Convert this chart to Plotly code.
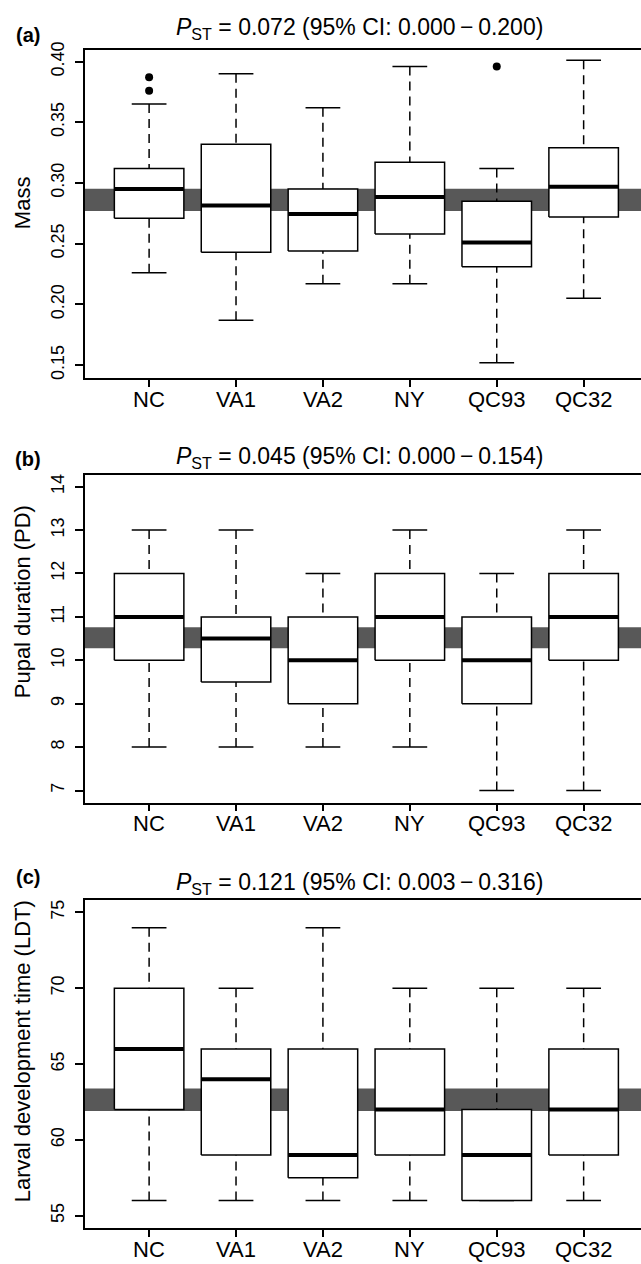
import plotly.graph_objects as go

# ---------------- data ----------------
categories = ["NC", "VA1", "VA2", "NY", "QC93", "QC32"]

# Panel (a) Mass
mass_low = [0.226, 0.187, 0.217, 0.217, 0.152, 0.205]
mass_q1 = [0.271, 0.243, 0.244, 0.258, 0.231, 0.272]
mass_med = [0.295, 0.2815, 0.2745, 0.2885, 0.251, 0.297]
mass_q3 = [0.312, 0.332, 0.295, 0.317, 0.285, 0.329]
mass_high = [0.365, 0.390, 0.362, 0.396, 0.312, 0.401]
mass_out_x = ["NC", "NC", "QC93"]
mass_out_y = [0.387, 0.376, 0.396]
mass_band = [0.277, 0.2953]
mass_title = "<i>P</i><sub>ST</sub> = 0.072 (95% CI: 0.000\u2009\u2212\u20090.200)"

# Panel (b) Pupal duration
pd_low = [8, 8, 8, 8, 7, 7]
pd_q1 = [10, 9.5, 9, 10, 9, 10]
pd_med = [11, 10.5, 10, 11, 10, 11]
pd_q3 = [12, 11, 11, 12, 11, 12]
pd_high = [13, 13, 12, 13, 12, 13]
pd_band = [10.275, 10.764]
pd_title = "<i>P</i><sub>ST</sub> = 0.045 (95% CI: 0.000\u2009\u2212\u20090.154)"

# Panel (c) Larval development time
ldt_low = [56, 56, 56, 56, 56, 56]
ldt_q1 = [62, 59, 57.5, 59, 56, 59]
ldt_med = [66, 64, 59, 62, 59, 62]
ldt_q3 = [70, 66, 66, 66, 62, 66]
ldt_high = [74, 70, 74, 70, 70, 70]
ldt_band = [61.9, 63.39]
ldt_title = "<i>P</i><sub>ST</sub> = 0.121 (95% CI: 0.003\u2009\u2212\u20090.316)"

# ---------------- layout constants ----------------
W, H = 641, 1264
FONT = "Liberation Sans, Arial, Helvetica, sans-serif"
x_left_px = 84.8
xdom = [x_left_px / W, 1.0]
xrange_ = [0.26, 6.66]

panels = [
    dict(low=mass_low, q1=mass_q1, med=mass_med, q3=mass_q3, high=mass_high,
         out_x=mass_out_x, out_y=mass_out_y, band=mass_band, title=mass_title,
         ytitle="Mass", label="(a)", top=42, bottom=372.7, yr=[0.1396, 0.4098],
         tickvals=[0.15, 0.20, 0.25, 0.30, 0.35, 0.40],
         ticktext=["0.15", "0.20", "0.25", "0.30", "0.35", "0.40"],
         title_y=21, ytitle_y=196.7, label_y=27),
    dict(low=pd_low, q1=pd_q1, med=pd_med, q3=pd_q3, high=pd_high,
         out_x=[], out_y=[], band=pd_band, title=pd_title,
         ytitle="Pupal duration (PD)", label="(b)", top=470.7, bottom=801, yr=[6.72, 14.27],
         tickvals=[7, 8, 9, 10, 11, 12, 13, 14],
         ticktext=["7", "8", "9", "10", "11", "12", "13", "14"],
         title_y=453, ytitle_y=599, label_y=455),
    dict(low=ldt_low, q1=ldt_q1, med=ldt_med, q3=ldt_q3, high=ldt_high,
         out_x=[], out_y=[], band=ldt_band, title=ldt_title,
         ytitle="Larval development time (LDT)", label="(c)", top=899, bottom=1230, yr=[54.17, 75.83],
         tickvals=[55, 60, 65, 70, 75],
         ticktext=["55", "60", "65", "70", "75"],
         title_y=882, ytitle_y=1051.5, label_y=876),
]

fig = go.Figure()
layout = dict(width=W, height=H, margin=dict(l=0, r=0, t=0, b=0),
              paper_bgcolor="white", plot_bgcolor="white", showlegend=False,
              font=dict(family=FONT, color="black"))
shapes = []
annotations = []

BOXW = 0.4
CAPW = 0.2
pos = {c: i + 1 for i, c in enumerate(categories)}

for k, p in enumerate(panels):
    sfx = "" if k == 0 else str(k + 1)
    xa, ya = "x" + sfx, "y" + sfx
    # band
    shapes.append(dict(type="rect", xref=f"{xa} domain", yref=ya, x0=0, x1=1,
                       y0=p["band"][0], y1=p["band"][1], fillcolor="#585858",
                       line=dict(width=0), layer="below"))
    for i, c in enumerate(categories):
        x = pos[c]
        # whiskers (dashed)
        fig.add_trace(go.Scatter(
            x=[x, x, None, x, x],
            y=[p["high"][i], p["q3"][i], None, p["low"][i], p["q1"][i]],
            mode="lines", line=dict(color="black", width=1.5, dash="9px,6px"),
            xaxis=xa, yaxis=ya, hoverinfo="skip"))
        # caps
        fig.add_trace(go.Scatter(
            x=[x - CAPW, x + CAPW, None, x - CAPW, x + CAPW],
            y=[p["high"][i], p["high"][i], None, p["low"][i], p["low"][i]],
            mode="lines", line=dict(color="black", width=1.5),
            xaxis=xa, yaxis=ya, hoverinfo="skip"))
        # box
        fig.add_trace(go.Scatter(
            x=[x - BOXW, x + BOXW, x + BOXW, x - BOXW, x - BOXW],
            y=[p["q1"][i], p["q1"][i], p["q3"][i], p["q3"][i], p["q1"][i]],
            mode="lines", fill="toself", fillcolor="white",
            line=dict(color="black", width=1.5),
            xaxis=xa, yaxis=ya, hoverinfo="skip"))
        # median
        fig.add_trace(go.Scatter(
            x=[x - BOXW, x + BOXW], y=[p["med"][i], p["med"][i]],
            mode="lines", line=dict(color="black", width=4),
            xaxis=xa, yaxis=ya, hoverinfo="skip"))
        # category label (placed below the axis)
        annotations.append(dict(text=c, xref=xa, yref="paper", x=x,
                                y=1 - (p["bottom"] + 21.5) / H, xanchor="center",
                                yanchor="middle", showarrow=False,
                                font=dict(size=22, family=FONT, color="black")))
    if p["out_x"]:
        fig.add_trace(go.Scatter(
            x=[pos[c] for c in p["out_x"]], y=p["out_y"], mode="markers",
            marker=dict(color="black", size=8),
            xaxis=xa, yaxis=ya, hoverinfo="skip"))

    ydom = [1 - p["bottom"] / H, 1 - p["top"] / H]
    layout["xaxis" + sfx] = dict(
        domain=xdom, range=xrange_, anchor=ya, showgrid=False, zeroline=False,
        showline=True, linecolor="black", linewidth=1.5, mirror=True,
        ticks="outside", ticklen=7, tickwidth=1.5, tickcolor="black",
        tickvals=[1, 2, 3, 4, 5, 6], showticklabels=False)
    layout["yaxis" + sfx] = dict(
        domain=ydom, range=p["yr"], anchor=xa, showgrid=False, zeroline=False,
        showline=True, linecolor="black", linewidth=1.5, mirror=False,
        ticks="outside", ticklen=8, tickwidth=1.5, tickcolor="black",
        tickvals=p["tickvals"], ticktext=p["ticktext"], tickangle=-90,
        tickfont=dict(size=18, family=FONT, color="black"), ticklabelstandoff=4)
    annotations.append(dict(text=p["title"], xref="paper", yref="paper",
                            x=359.5 / W, y=1 - p["title_y"] / H, xanchor="center",
                            yanchor="middle", showarrow=False,
                            font=dict(size=23, family=FONT, color="black")))
    annotations.append(dict(text=p["ytitle"], xref="paper", yref="paper",
                            x=22 / W, y=1 - p["ytitle_y"] / H, xanchor="center",
                            yanchor="middle", textangle=-90, showarrow=False,
                            font=dict(size=22, family=FONT, color="black")))
    annotations.append(dict(text="<b>" + p["label"] + "</b>", xref="paper", yref="paper",
                            x=27.5 / W, y=1 - p["label_y"] / H, xanchor="center",
                            yanchor="middle", showarrow=False,
                            font=dict(size=20, family=FONT, color="black")))

layout["shapes"] = shapes
layout["annotations"] = annotations
fig.update_layout(**layout)
fig.write_html("out.html", config={"displayModeBar": False},
               post_script="document.body.style.margin='0';document.body.style.padding='0';")
